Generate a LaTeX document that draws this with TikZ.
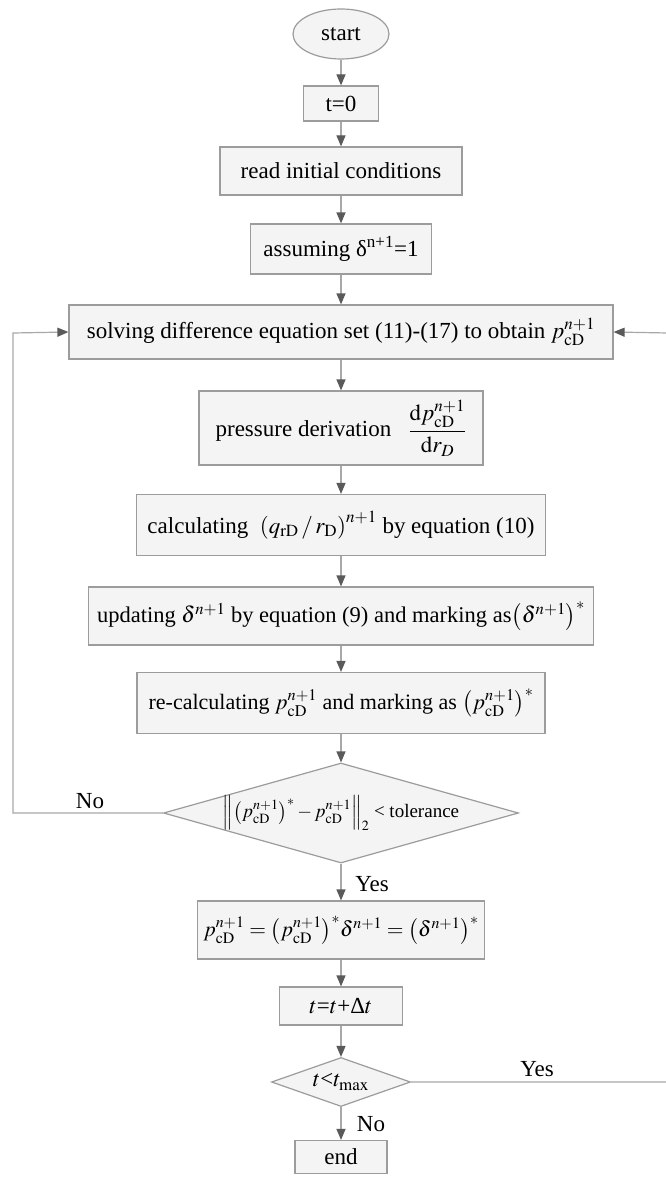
\documentclass[tikz,border=0pt]{standalone}
\usepackage{mathptmx}
\usepackage[no-math]{fontspec}
\setmainfont{Liberation Serif}
\usetikzlibrary{arrows.meta,shapes.geometric}
\definecolor{linegray}{HTML}{A8A8A8}
\definecolor{tipgray}{HTML}{5A5A5A}
\definecolor{boxdraw}{HTML}{9C9C9C}
\definecolor{boxfill}{HTML}{F4F4F4}
\newcommand{\pcdv}{p_{\mathrm{cD}}^{n+1}}
\begin{document}
\begin{tikzpicture}[x=1pt,y=-1pt,
  every node/.style={font=\fontsize{23}{27}\selectfont},
  box/.style={draw=boxdraw,fill=boxfill,line width=1.2pt,inner sep=0pt,align=center},
  dia/.style={draw=boxdraw,fill=boxfill,line width=1.2pt,shape=diamond,inner sep=0pt},
  arr/.style={draw=linegray,line width=1.2pt,-{Triangle[length=11pt,width=9pt,color=tipgray]}},
  lbl/.style={inner sep=0pt}]
\useasboundingbox (0,0) rectangle (666,1177);
\fill[white] (0,0) rectangle (666,1177);

\node[box,shape=ellipse,minimum width=96pt,minimum height=50pt] (start) at (341,34) {start};
\node[box,minimum width=75pt,minimum height=35pt] (t0) at (341,103.5) {t=0};
\node[box,minimum width=242pt,minimum height=48pt] (read) at (341,171) {read initial conditions};
\node[box,minimum width=181pt,minimum height=50pt] (assume) at (341,249) {assuming δ\textsuperscript{n+1}=1};
\node[box,minimum width=544pt,minimum height=54pt] (solve) at (341,332) {solving difference equation set (11)-(17) to obtain $\pcdv$};
\node[box,minimum width=284pt,minimum height=74pt] (press) at (341,428) {pressure derivation \ \ $\displaystyle\frac{\mathrm{d}\pcdv}{\mathrm{d}r_{D}}$};
\node[box,minimum width=409pt,minimum height=61pt] (calc) at (341,525) {calculating \ $\left(q_{\mathrm{rD}}\,/\,r_{\mathrm{D}}\right)^{n+1}$ by equation (10)};
\node[box,minimum width=505pt,minimum height=58pt,font=\fontsize{22.5}{27}\selectfont] (upd) at (341,616) {updating $\delta^{n+1}$ by equation (9) and marking as$\left(\delta^{n+1}\right)^{*}$};
\node[box,minimum width=408pt,minimum height=61pt,font=\fontsize{22}{26}\selectfont] (recalc) at (341,703) {re-calculating $\pcdv$ and marking as $\left(\pcdv\right)^{*}$};
\node[dia,minimum width=355pt,minimum height=100pt] (d1) at (341,813) {};
\node[lbl,font=\fontsize{19}{23}\selectfont] (d1t) at (341,813) {$\left\|\left(\pcdv\right)^{*}-\pcdv\right\|_{2}$ < tolerance};
\node[box,minimum width=287pt,minimum height=58pt,font=\fontsize{21.5}{26}\selectfont] (res) at (341,930) {$\pcdv=\left(\pcdv\right)^{*}\!\delta^{n+1}=\left(\delta^{n+1}\right)^{*}$};
\node[box,minimum width=123pt,minimum height=38pt] (tinc) at (341,1006) {$t$=$t$+Δ$t$};
\node[dia,minimum width=139pt,minimum height=49pt] (d2) at (341,1082) {};
\node[lbl] (d2t) at (341,1082) {$t$<$t_{\mathrm{max}}$};
\node[box,minimum width=92pt,minimum height=33pt] (end) at (341,1157) {end};

\draw[arr] (start.south) -- (t0.north);
\draw[arr] (t0.south) -- (read.north);
\draw[arr] (read.south) -- (assume.north);
\draw[arr] (assume.south) -- (solve.north);
\draw[arr] (solve.south) -- (press.north);
\draw[arr] (press.south) -- (calc.north);
\draw[arr] (calc.south) -- (upd.north);
\draw[arr] (upd.south) -- (recalc.north);
\draw[arr] (recalc.south) -- (d1.north);
\draw[arr] (d1.south) -- (res.north);
\draw[arr] (res.south) -- (tinc.north);
\draw[arr] (tinc.south) -- (d2.north);
\draw[arr] (d2.south) -- (end.north);

\coordinate (lc) at (13,333);
\coordinate (rc) at (668,333);
\draw[arr] (d1.west) -| (lc) -- (solve.west);
\draw[arr] (d2.east) -| (rc) -- (solve.east);

\node[lbl] (no1) at (90,801) {No};
\node[lbl] (yes1) at (372,884) {Yes};
\node[lbl] (yes2) at (537,1069) {Yes};
\node[lbl] (no2) at (371,1124) {No};
\end{tikzpicture}
\end{document}
